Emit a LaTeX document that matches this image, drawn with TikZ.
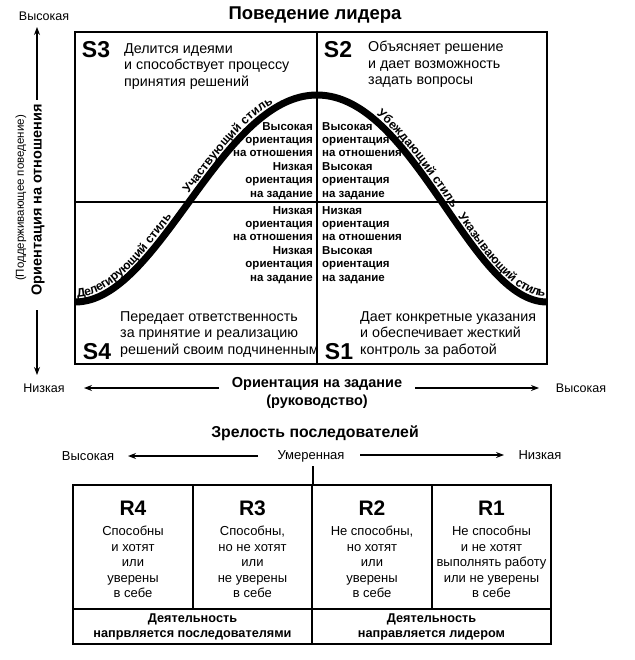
\documentclass[tikz,border=0pt]{standalone}
\usepackage{fontspec}
\setmainfont{Liberation Sans}
\usetikzlibrary{arrows.meta,decorations.text}
\begin{document}
\begin{tikzpicture}[x=1pt,y=-1pt,
  txt/.style={inner sep=0pt, font=\fontsize{14.3}{16.5}\selectfont, align=left},
  small/.style={inner sep=0pt, font=\bfseries\fontsize{11.5}{13.4}\selectfont},
  slab/.style={inner sep=0pt, font=\bfseries\fontsize{23}{23}\selectfont},
  axl/.style={inner sep=0pt, font=\fontsize{12.5}{14}\selectfont},
  axb/.style={inner sep=0pt, font=\bfseries\fontsize{14.5}{17.5}\selectfont, align=center},
  arr/.style={line width=1.2pt, -{Stealth[length=8pt,width=6pt]}},
  rlab/.style={inner sep=0pt, font=\bfseries\fontsize{21}{21}\selectfont},
  rtxt/.style={inner sep=0pt, font=\fontsize{13}{15.5}\selectfont, align=center},
  btxt/.style={inner sep=0pt, font=\bfseries\fontsize{12.7}{15}\selectfont, align=center},
  frame/.style={line width=2pt},
  divline/.style={line width=1.5pt},
  curvetext/.style={decorate, decoration={text along path, raise=5pt, text={|\bfseries\fontsize{12.2}{13}\selectfont|#1}}}
]
\useasboundingbox (0,0) rectangle (634,660);

% title
\node[inner sep=0pt, font=\bfseries\fontsize{18.5}{21}\selectfont] (title) at (315,15) {Поведение лидера};

% main frame
\draw[frame] (75,32) rectangle (547,364);
\draw[divline] (317,32) -- (317,364);
\draw[divline] (75,202) -- (547,202);

% curve
\draw[line width=7pt] (75,302) .. controls (117.5,302) and (153.75,250.25) .. (191.5,198.5)
  .. controls (229.25,146.75) and (268.5,95) .. (317,95)
  .. controls (365.5,95) and (403.75,146.75) .. (439.5,198.5)
  .. controls (475.25,250.25) and (508.5,302) .. (547,302);

\path[curvetext={Делегирующий стиль}, decoration={text align={left indent=3pt}}]
  (75,302) .. controls (117.5,302) and (153.75,250.25) .. (191.5,198.5);
\path[curvetext={Участвующий стиль}, decoration={text align={left indent=2pt}}]
  (191.5,198.5) .. controls (229.25,146.75) and (268.5,95) .. (317,95);
\path[curvetext={Убеждающий стиль}, decoration={text align={left indent=62pt}}]
  (317,95) .. controls (414,95) and (470,302) .. (547,302);
\path[curvetext={Указывающий стиль}, decoration={text align={right, right indent=3pt}}]
  (439.5,198.5) .. controls (475.25,250.25) and (508.5,302) .. (547,302);

% quadrant labels
\node[slab] (s3) at (96,50) {S3};
\node[txt, anchor=north west] (t3) at (124,43) {Делится идеями\\и способствует процессу\\принятия решений};
\node[slab] (s2) at (338,50) {S2};
\node[txt, anchor=north west] (t2) at (368,41) {Объясняет решение\\и дает возможность\\задать вопросы};
\node[slab] (s4) at (97,352) {S4};
\node[txt, anchor=north west] (t4) at (120,311) {Передает ответственность\\за принятие и реализацию\\решений своим подчиненным};
\node[slab] (s1) at (339,352) {S1};
\node[txt, anchor=north west] (t1) at (360,311) {Дает конкретные указания\\и обеспечивает жесткий\\контроль за работой};

% center blocks
\node[small, anchor=north east, align=right] (c3) at (313,122) {Высокая\\ориентация\\на отношения\\Низкая\\ориентация\\на задание};
\node[small, anchor=north west, align=left] (c2) at (322,122) {Высокая\\ориентация\\на отношения\\Высокая\\ориентация\\на задание};
\node[small, anchor=north east, align=right] (c4) at (313,206) {Низкая\\ориентация\\на отношения\\Низкая\\ориентация\\на задание};
\node[small, anchor=north west, align=left] (c1) at (322,206) {Низкая\\ориентация\\на отношения\\Высокая\\ориентация\\на задание};

% vertical axis
\node[axl] (vhigh) at (44,16) {Высокая};
\node[axb, rotate=90] (vlab) at (38,200) {Ориентация на отношения};
\node[inner sep=0pt, font=\fontsize{11.5}{13}\selectfont, rotate=90] (vsub) at (21,198) {(Поддерживающее поведение)};
\node[axl] (vlow) at (44,388) {Низкая};
\coordinate (ua1) at (37,100);
\coordinate (ua2) at (37,27);
\coordinate (da1) at (37,310);
\coordinate (da2) at (37,375);
\draw[arr] (ua1) -- (ua2);
\draw[arr] (da1) -- (da2);

% horizontal axis
\node[axb] (hlab) at (317,393) {Ориентация на задание\\(руководство)};
\node[axl] (hhigh) at (581,388) {Высокая};
\coordinate (la1) at (219,388);
\coordinate (la2) at (84,388);
\coordinate (ra1) at (415,388);
\coordinate (ra2) at (539,388);
\draw[arr] (la1) -- (la2);
\draw[arr] (ra1) -- (ra2);

% maturity
\node[inner sep=0pt, font=\bfseries\fontsize{15.8}{18}\selectfont] (mat) at (315,433) {Зрелость последователей};
\node[axl, font=\fontsize{13}{15}\selectfont] (mhigh) at (88,456) {Высокая};
\node[axl, font=\fontsize{13}{15}\selectfont] (mmid) at (311,456) {Умеренная};
\node[axl, font=\fontsize{13}{15}\selectfont] (mlow) at (540,455) {Низкая};
\coordinate (ml1) at (258,456);
\coordinate (ml2) at (128,456);
\coordinate (mr1) at (360,455);
\coordinate (mr2) at (504,455);
\draw[arr] (ml1) -- (ml2);
\draw[arr] (mr1) -- (mr2);
\coordinate (mv1) at (313,466);
\coordinate (mv2) at (313,485);
\draw[divline] (mv1) -- (mv2);

% R boxes
\draw[frame] (73,485) rectangle (551,644);
\draw[divline] (73,609) -- (551,609);
\draw[divline] (193,485) -- (193,609);
\draw[divline] (432,485) -- (432,609);
\draw[frame] (312,485) -- (312,644);

\node[rlab] (r4) at (133,508) {R4};
\node[rlab] (r3) at (252.5,508) {R3};
\node[rlab] (r2) at (372,508) {R2};
\node[rlab] (r1) at (491.5,508) {R1};
\node[rtxt, anchor=north] (r4t) at (133,526) {Способны\\и хотят\\или\\уверены\\в себе};
\node[rtxt, anchor=north] (r3t) at (252.5,526) {Способны,\\но не хотят\\или\\не уверены\\в себе};
\node[rtxt, anchor=north] (r2t) at (372,526) {Не способны,\\но хотят\\или\\уверены\\в себе};
\node[rtxt, anchor=north] (r1t) at (491.5,526) {Не способны\\и не хотят\\выполнять работу\\или не уверены\\в себе};
\node[btxt] (b1) at (192.5,627) {Деятельность\\напрвляется последователями};
\node[btxt] (b2) at (431.5,627) {Деятельность\\направляется лидером};
\end{tikzpicture}
\end{document}
